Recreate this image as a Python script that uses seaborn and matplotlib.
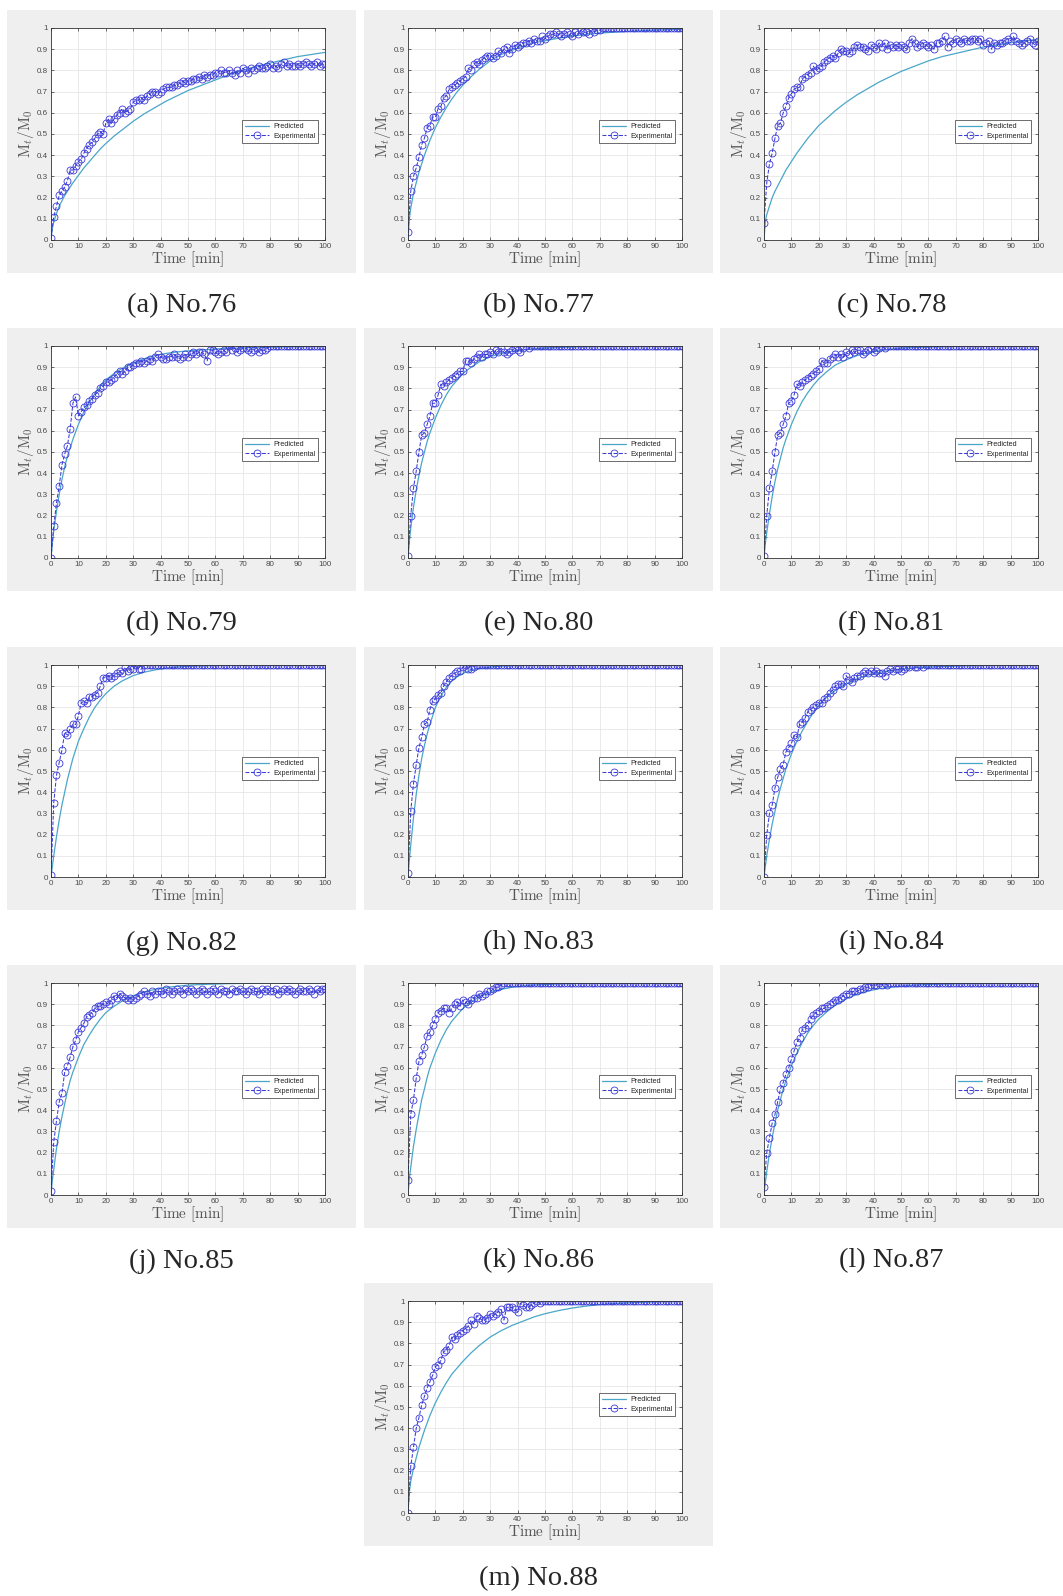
import numpy as np
import pandas as pd
import matplotlib
matplotlib.use('Agg')
import matplotlib.pyplot as plt
from matplotlib.patches import Rectangle
import seaborn as sns

# Rótulos dos painéis
captions = ['(a) No.76', '(b) No.77', '(c) No.78', '(d) No.79', '(e) No.80', '(f) No.81',
            '(g) No.82', '(h) No.83', '(i) No.84', '(j) No.85', '(k) No.86', '(l) No.87',
            '(m) No.88']

x_ticks = [0, 10, 20, 30, 40, 50, 60, 70, 80, 90, 100]
y_ticks = [0, 0.1, 0.2, 0.3, 0.4, 0.5, 0.6, 0.7, 0.8, 0.9, 1.0]
y_tick_labels = ['0', '0.1', '0.2', '0.3', '0.4', '0.5', '0.6', '0.7', '0.8', '0.9', '1']

# Curva prevista (tempo em min)
pred_time = [0, 0.5, 1, 2, 3, 4, 5, 6, 7, 8, 10, 12, 14, 16, 18, 20, 23, 26, 30, 34, 38,
             42, 46, 50, 55, 60, 65, 70, 75, 80, 85, 90, 95, 100]
pred_76 = [0, 0.055, 0.085, 0.125, 0.16, 0.185, 0.21, 0.23, 0.25, 0.27, 0.305, 0.34, 0.37, 0.40,
           0.43, 0.455, 0.49, 0.52, 0.56, 0.595, 0.625, 0.655, 0.68, 0.705, 0.73, 0.755, 0.78,
           0.80, 0.82, 0.835, 0.85, 0.865, 0.875, 0.885]
pred_77 = [0, 0.10, 0.15, 0.22, 0.27, 0.32, 0.36, 0.40, 0.435, 0.47, 0.53, 0.58, 0.625, 0.665,
           0.70, 0.73, 0.77, 0.805, 0.845, 0.875, 0.895, 0.915, 0.93, 0.94, 0.952, 0.962, 0.97,
           0.976, 0.98, 0.984, 0.987, 0.99, 0.992, 0.993]
pred_78 = [0, 0.09, 0.12, 0.16, 0.20, 0.23, 0.255, 0.28, 0.305, 0.33, 0.37, 0.41, 0.445, 0.48,
           0.51, 0.54, 0.575, 0.61, 0.65, 0.685, 0.715, 0.745, 0.77, 0.795, 0.82, 0.845, 0.865,
           0.88, 0.895, 0.91, 0.92, 0.93, 0.94, 0.945]
pred_79 = [0, 0.07, 0.13, 0.22, 0.30, 0.37, 0.43, 0.48, 0.52, 0.56, 0.63, 0.69, 0.735, 0.775,
           0.81, 0.84, 0.87, 0.895, 0.92, 0.94, 0.955, 0.965, 0.972, 0.977, 0.982, 0.986, 0.989,
           0.991, 0.993, 0.995, 0.996, 0.997, 0.998, 0.998]
pred_80 = [0, 0.08, 0.14, 0.24, 0.32, 0.39, 0.45, 0.50, 0.55, 0.59, 0.66, 0.72, 0.77, 0.81,
           0.84, 0.87, 0.90, 0.925, 0.95, 0.965, 0.975, 0.982, 0.987, 0.99, 0.993, 0.996, 0.997,
           0.998, 0.999, 1.0, 1.0, 1.0, 1.0, 1.0]
pred_81 = [0, 0.07, 0.12, 0.21, 0.29, 0.36, 0.42, 0.47, 0.52, 0.56, 0.63, 0.69, 0.74, 0.78,
           0.815, 0.845, 0.88, 0.91, 0.935, 0.955, 0.968, 0.977, 0.984, 0.99, 0.993, 0.995, 0.997,
           0.998, 0.999, 1.0, 1.0, 1.0, 1.0, 1.0]
pred_82 = [0, 0.05, 0.10, 0.19, 0.27, 0.34, 0.40, 0.46, 0.51, 0.56, 0.64, 0.70, 0.755, 0.80,
           0.835, 0.865, 0.90, 0.925, 0.95, 0.966, 0.977, 0.985, 0.99, 0.994, 0.996, 0.998, 0.999,
           1.0, 1.0, 1.0, 1.0, 1.0, 1.0, 1.0]
pred_83 = [0, 0.08, 0.15, 0.28, 0.39, 0.48, 0.56, 0.62, 0.675, 0.72, 0.80, 0.855, 0.895, 0.925,
           0.945, 0.96, 0.975, 0.984, 0.99, 0.995, 0.997, 0.998, 0.999, 1.0, 1.0, 1.0, 1.0,
           1.0, 1.0, 1.0, 1.0, 1.0, 1.0, 1.0]
pred_84 = [0, 0.05, 0.10, 0.18, 0.25, 0.31, 0.37, 0.42, 0.465, 0.51, 0.58, 0.64, 0.69, 0.735,
           0.775, 0.81, 0.85, 0.88, 0.91, 0.935, 0.952, 0.964, 0.973, 0.98, 0.986, 0.99, 0.993,
           0.995, 0.997, 0.998, 0.999, 1.0, 1.0, 1.0]
pred_85 = [0, 0.07, 0.12, 0.22, 0.30, 0.37, 0.43, 0.49, 0.54, 0.58, 0.65, 0.71, 0.755, 0.795,
           0.83, 0.86, 0.89, 0.915, 0.94, 0.958, 0.97, 0.979, 0.985, 0.99, 0.993, 0.995, 0.997,
           0.998, 0.999, 1.0, 1.0, 1.0, 1.0, 1.0]
pred_86 = [0, 0.08, 0.13, 0.23, 0.31, 0.38, 0.45, 0.50, 0.555, 0.60, 0.67, 0.73, 0.78, 0.82,
           0.85, 0.88, 0.91, 0.935, 0.955, 0.97, 0.98, 0.986, 0.99, 0.993, 0.996, 0.998, 0.999,
           1.0, 1.0, 1.0, 1.0, 1.0, 1.0, 1.0]
pred_87 = [0, 0.06, 0.11, 0.20, 0.27, 0.34, 0.40, 0.45, 0.50, 0.54, 0.61, 0.67, 0.72, 0.765,
           0.80, 0.83, 0.865, 0.895, 0.925, 0.947, 0.962, 0.973, 0.98, 0.985, 0.99, 0.993, 0.995,
           0.997, 0.998, 0.999, 1.0, 1.0, 1.0, 1.0]
pred_88 = [0, 0.10, 0.15, 0.21, 0.26, 0.31, 0.35, 0.39, 0.425, 0.46, 0.52, 0.57, 0.615, 0.655,
           0.685, 0.715, 0.755, 0.79, 0.83, 0.86, 0.885, 0.905, 0.925, 0.94, 0.955, 0.967, 0.976,
           0.983, 0.988, 0.991, 0.994, 0.996, 0.997, 0.998]

# Dados experimentais, um ponto por minuto (0 a 100 min)
exp_76 = [0.01,
          0.11, 0.16, 0.21, 0.23, 0.25, 0.28, 0.33, 0.33, 0.35, 0.37,
          0.38, 0.41, 0.43, 0.45, 0.46, 0.48, 0.50, 0.51, 0.50, 0.55,
          0.57, 0.55, 0.57, 0.59, 0.60, 0.62, 0.60, 0.61, 0.62, 0.65,
          0.66, 0.66, 0.67, 0.66, 0.68, 0.69, 0.70, 0.70, 0.69, 0.70,
          0.71, 0.72, 0.72, 0.72, 0.73, 0.73, 0.74, 0.75, 0.74, 0.75,
          0.75, 0.76, 0.76, 0.77, 0.76, 0.78, 0.77, 0.78, 0.78, 0.79,
          0.79, 0.80, 0.79, 0.79, 0.80, 0.79, 0.78, 0.80, 0.79, 0.81,
          0.80, 0.79, 0.81, 0.80, 0.81, 0.82, 0.81, 0.81, 0.82, 0.83,
          0.81, 0.82, 0.81, 0.83, 0.84, 0.82, 0.83, 0.82, 0.82, 0.83,
          0.82, 0.83, 0.84, 0.83, 0.82, 0.83, 0.84, 0.82, 0.83, 0.83]
exp_77 = [0.04,
          0.23, 0.30, 0.34, 0.39, 0.45, 0.48, 0.53, 0.54, 0.58, 0.58,
          0.62, 0.63, 0.67, 0.68, 0.71, 0.72, 0.73, 0.74, 0.75, 0.76,
          0.77, 0.81, 0.80, 0.83, 0.84, 0.83, 0.85, 0.86, 0.87, 0.87,
          0.86, 0.87, 0.89, 0.88, 0.90, 0.91, 0.88, 0.90, 0.92, 0.91,
          0.92, 0.93, 0.93, 0.94, 0.93, 0.95, 0.94, 0.94, 0.96, 0.95,
          0.96, 0.97, 0.97, 0.98, 0.97, 0.96, 0.97, 0.98, 0.97, 0.96,
          0.98, 0.97, 0.99, 0.98, 0.98, 0.97, 1.00, 0.98, 0.99, 0.99,
          1.00, 1.00, 1.00, 1.00, 1.00, 1.00, 1.00, 1.00, 1.00, 1.00,
          1.00, 1.00, 1.00, 1.00, 1.00, 1.00, 1.00, 1.00, 1.00, 1.00,
          1.00, 1.00, 1.00, 1.00, 1.00, 1.00, 1.00, 1.00, 1.00, 1.00]
exp_78 = [0.08,
          0.27, 0.36, 0.41, 0.48, 0.54, 0.55, 0.60, 0.63, 0.67, 0.69,
          0.71, 0.72, 0.72, 0.76, 0.77, 0.78, 0.79, 0.82, 0.80, 0.81,
          0.82, 0.84, 0.85, 0.86, 0.87, 0.86, 0.88, 0.90, 0.89, 0.89,
          0.88, 0.89, 0.91, 0.92, 0.91, 0.91, 0.90, 0.89, 0.92, 0.91,
          0.90, 0.93, 0.91, 0.93, 0.90, 0.92, 0.91, 0.92, 0.91, 0.92,
          0.91, 0.90, 0.93, 0.95, 0.93, 0.91, 0.92, 0.93, 0.92, 0.91,
          0.92, 0.90, 0.93, 0.93, 0.94, 0.96, 0.91, 0.94, 0.93, 0.95,
          0.94, 0.93, 0.95, 0.94, 0.94, 0.95, 0.95, 0.94, 0.95, 0.92,
          0.93, 0.94, 0.90, 0.93, 0.92, 0.93, 0.93, 0.94, 0.95, 0.94,
          0.96, 0.94, 0.93, 0.92, 0.93, 0.94, 0.95, 0.93, 0.92, 0.94]
exp_79 = [0.00,
          0.15, 0.26, 0.34, 0.44, 0.49, 0.53, 0.61, 0.73, 0.76, 0.67,
          0.69, 0.71, 0.72, 0.74, 0.75, 0.77, 0.78, 0.80, 0.81, 0.83,
          0.83, 0.84, 0.85, 0.87, 0.88, 0.87, 0.88, 0.90, 0.90, 0.91,
          0.92, 0.92, 0.93, 0.92, 0.93, 0.94, 0.93, 0.95, 0.96, 0.95,
          0.94, 0.94, 0.95, 0.95, 0.96, 0.95, 0.94, 0.95, 0.96, 0.95,
          0.96, 0.97, 0.96, 0.97, 0.97, 0.96, 0.93, 0.98, 0.98, 0.97,
          0.96, 0.97, 0.98, 0.97, 1.00, 0.98, 0.99, 0.97, 0.98, 0.99,
          0.99, 0.98, 0.97, 0.98, 0.99, 0.97, 0.98, 0.98, 0.99, 1.00,
          1.00, 1.00, 1.00, 1.00, 1.00, 1.00, 1.00, 1.00, 1.00, 1.00,
          1.00, 1.00, 1.00, 1.00, 1.00, 1.00, 1.00, 1.00, 1.00, 1.00]
exp_80 = [0.01,
          0.20, 0.33, 0.41, 0.50, 0.58, 0.59, 0.63, 0.67, 0.73, 0.73,
          0.77, 0.82, 0.81, 0.83, 0.84, 0.85, 0.86, 0.87, 0.88, 0.88,
          0.93, 0.93, 0.92, 0.94, 0.95, 0.96, 0.95, 0.96, 0.96, 0.97,
          0.96, 0.98, 0.97, 0.99, 0.97, 0.96, 0.97, 0.98, 0.99, 0.98,
          0.97, 0.99, 1.00, 0.99, 1.00, 1.00, 1.00, 1.00, 1.00, 1.00,
          1.00, 1.00, 1.00, 1.00, 1.00, 1.00, 1.00, 1.00, 1.00, 1.00,
          1.00, 1.00, 1.00, 1.00, 1.00, 1.00, 1.00, 1.00, 1.00, 1.00,
          1.00, 1.00, 1.00, 1.00, 1.00, 1.00, 1.00, 1.00, 1.00, 1.00,
          1.00, 1.00, 1.00, 1.00, 1.00, 1.00, 1.00, 1.00, 1.00, 1.00,
          1.00, 1.00, 1.00, 1.00, 1.00, 1.00, 1.00, 1.00, 1.00, 1.00]
exp_81 = [0.01,
          0.20, 0.33, 0.41, 0.50, 0.58, 0.59, 0.63, 0.67, 0.73, 0.74,
          0.77, 0.82, 0.81, 0.83, 0.84, 0.85, 0.86, 0.87, 0.88, 0.89,
          0.93, 0.92, 0.92, 0.94, 0.95, 0.96, 0.95, 0.96, 0.95, 0.97,
          0.96, 0.98, 0.97, 0.98, 0.98, 0.96, 0.97, 0.98, 0.99, 0.97,
          0.98, 0.99, 1.00, 0.99, 1.00, 1.00, 1.00, 1.00, 1.00, 1.00,
          1.00, 1.00, 1.00, 1.00, 1.00, 1.00, 1.00, 1.00, 1.00, 1.00,
          1.00, 1.00, 1.00, 1.00, 1.00, 1.00, 1.00, 1.00, 1.00, 1.00,
          1.00, 1.00, 1.00, 1.00, 1.00, 1.00, 1.00, 1.00, 1.00, 1.00,
          1.00, 1.00, 1.00, 1.00, 1.00, 1.00, 1.00, 1.00, 1.00, 1.00,
          1.00, 1.00, 1.00, 1.00, 1.00, 1.00, 1.00, 1.00, 1.00, 1.00]
exp_82 = [0.01,
          0.35, 0.48, 0.54, 0.60, 0.68, 0.67, 0.70, 0.72, 0.72, 0.76,
          0.82, 0.83, 0.82, 0.85, 0.85, 0.86, 0.87, 0.90, 0.94, 0.94,
          0.95, 0.94, 0.95, 0.96, 0.97, 0.96, 0.99, 0.97, 0.98, 0.98,
          1.00, 0.98, 0.98, 1.00, 1.00, 1.00, 1.00, 1.00, 1.00, 1.00,
          1.00, 1.00, 1.00, 1.00, 1.00, 1.00, 1.00, 1.00, 1.00, 1.00,
          1.00, 1.00, 1.00, 1.00, 1.00, 1.00, 1.00, 1.00, 1.00, 1.00,
          1.00, 1.00, 1.00, 1.00, 1.00, 1.00, 1.00, 1.00, 1.00, 1.00,
          1.00, 1.00, 1.00, 1.00, 1.00, 1.00, 1.00, 1.00, 1.00, 1.00,
          1.00, 1.00, 1.00, 1.00, 1.00, 1.00, 1.00, 1.00, 1.00, 1.00,
          1.00, 1.00, 1.00, 1.00, 1.00, 1.00, 1.00, 1.00, 1.00, 1.00]
exp_83 = [0.02,
          0.31, 0.44, 0.53, 0.61, 0.66, 0.72, 0.73, 0.79, 0.83, 0.84,
          0.86, 0.87, 0.90, 0.92, 0.94, 0.95, 0.96, 0.97, 0.97, 0.99,
          1.00, 0.98, 0.98, 0.99, 1.00, 1.00, 1.00, 1.00, 1.00, 1.00,
          1.00, 1.00, 1.00, 1.00, 1.00, 1.00, 1.00, 1.00, 1.00, 1.00,
          1.00, 1.00, 1.00, 1.00, 1.00, 1.00, 1.00, 1.00, 1.00, 1.00,
          1.00, 1.00, 1.00, 1.00, 1.00, 1.00, 1.00, 1.00, 1.00, 1.00,
          1.00, 1.00, 1.00, 1.00, 1.00, 1.00, 1.00, 1.00, 1.00, 1.00,
          1.00, 1.00, 1.00, 1.00, 1.00, 1.00, 1.00, 1.00, 1.00, 1.00,
          1.00, 1.00, 1.00, 1.00, 1.00, 1.00, 1.00, 1.00, 1.00, 1.00,
          1.00, 1.00, 1.00, 1.00, 1.00, 1.00, 1.00, 1.00, 1.00, 1.00]
exp_84 = [0.00,
          0.20, 0.30, 0.34, 0.42, 0.47, 0.51, 0.53, 0.59, 0.61, 0.63,
          0.67, 0.66, 0.72, 0.73, 0.75, 0.78, 0.79, 0.80, 0.81, 0.82,
          0.82, 0.84, 0.85, 0.87, 0.88, 0.90, 0.91, 0.91, 0.90, 0.95,
          0.93, 0.92, 0.94, 0.95, 0.95, 0.96, 0.97, 0.96, 0.97, 0.96,
          0.97, 0.96, 0.96, 0.95, 0.97, 0.98, 0.97, 0.98, 0.98, 0.97,
          0.98, 0.99, 0.99, 1.00, 0.99, 0.99, 1.00, 0.99, 1.00, 1.00,
          1.00, 1.00, 1.00, 1.00, 1.00, 1.00, 1.00, 1.00, 1.00, 1.00,
          1.00, 1.00, 1.00, 1.00, 1.00, 1.00, 1.00, 1.00, 1.00, 1.00,
          1.00, 1.00, 1.00, 1.00, 1.00, 1.00, 1.00, 1.00, 1.00, 1.00,
          1.00, 1.00, 1.00, 1.00, 1.00, 1.00, 1.00, 1.00, 1.00, 1.00]
exp_85 = [0.02,
          0.25, 0.35, 0.44, 0.48, 0.58, 0.61, 0.65, 0.70, 0.73, 0.77,
          0.79, 0.81, 0.84, 0.85, 0.86, 0.88, 0.89, 0.89, 0.90, 0.91,
          0.90, 0.92, 0.94, 0.93, 0.95, 0.94, 0.93, 0.92, 0.93, 0.92,
          0.93, 0.94, 0.95, 0.96, 0.95, 0.94, 0.96, 0.95, 0.96, 0.96,
          0.95, 0.97, 0.96, 0.95, 0.96, 0.97, 0.96, 0.95, 0.97, 0.96,
          0.97, 0.96, 0.95, 0.96, 0.97, 0.96, 0.95, 0.96, 0.97, 0.96,
          0.95, 0.97, 0.96, 0.96, 0.95, 0.97, 0.96, 0.96, 0.97, 0.96,
          0.95, 0.96, 0.97, 0.96, 0.96, 0.95, 0.97, 0.96, 0.97, 0.96,
          0.96, 0.97, 0.95, 0.96, 0.97, 0.96, 0.97, 0.96, 0.95, 0.96,
          0.97, 0.96, 0.96, 0.97, 0.96, 0.95, 0.97, 0.96, 0.97, 0.97]
exp_86 = [0.07,
          0.38, 0.45, 0.55, 0.63, 0.66, 0.70, 0.75, 0.77, 0.80, 0.83,
          0.86, 0.87, 0.88, 0.88, 0.86, 0.88, 0.90, 0.91, 0.89, 0.92,
          0.91, 0.90, 0.92, 0.93, 0.93, 0.95, 0.94, 0.95, 0.96, 0.96,
          0.97, 0.98, 0.98, 0.99, 1.00, 1.00, 1.00, 1.00, 1.00, 1.00,
          1.00, 1.00, 1.00, 1.00, 1.00, 1.00, 1.00, 1.00, 1.00, 1.00,
          1.00, 1.00, 1.00, 1.00, 1.00, 1.00, 1.00, 1.00, 1.00, 1.00,
          1.00, 1.00, 1.00, 1.00, 1.00, 1.00, 1.00, 1.00, 1.00, 1.00,
          1.00, 1.00, 1.00, 1.00, 1.00, 1.00, 1.00, 1.00, 1.00, 1.00,
          1.00, 1.00, 1.00, 1.00, 1.00, 1.00, 1.00, 1.00, 1.00, 1.00,
          1.00, 1.00, 1.00, 1.00, 1.00, 1.00, 1.00, 1.00, 1.00, 1.00]
exp_87 = [0.04,
          0.20, 0.27, 0.34, 0.38, 0.44, 0.50, 0.53, 0.57, 0.60, 0.64,
          0.68, 0.72, 0.74, 0.78, 0.79, 0.80, 0.83, 0.85, 0.86, 0.87,
          0.88, 0.88, 0.89, 0.90, 0.91, 0.92, 0.92, 0.93, 0.94, 0.95,
          0.95, 0.96, 0.96, 0.96, 0.97, 0.97, 0.98, 0.98, 0.99, 0.99,
          0.99, 1.00, 0.99, 1.00, 0.99, 1.00, 1.00, 1.00, 1.00, 1.00,
          1.00, 1.00, 1.00, 1.00, 1.00, 1.00, 1.00, 1.00, 1.00, 1.00,
          1.00, 1.00, 1.00, 1.00, 1.00, 1.00, 1.00, 1.00, 1.00, 1.00,
          1.00, 1.00, 1.00, 1.00, 1.00, 1.00, 1.00, 1.00, 1.00, 1.00,
          1.00, 1.00, 1.00, 1.00, 1.00, 1.00, 1.00, 1.00, 1.00, 1.00,
          1.00, 1.00, 1.00, 1.00, 1.00, 1.00, 1.00, 1.00, 1.00, 1.00]
exp_88 = [0.00,
          0.22, 0.31, 0.40, 0.45, 0.51, 0.55, 0.59, 0.62, 0.65, 0.69,
          0.70, 0.72, 0.76, 0.77, 0.79, 0.83, 0.82, 0.84, 0.85, 0.86,
          0.87, 0.88, 0.91, 0.89, 0.93, 0.92, 0.91, 0.91, 0.92, 0.94,
          0.93, 0.94, 0.95, 0.96, 0.91, 0.97, 0.97, 0.97, 0.96, 0.95,
          0.99, 0.98, 0.97, 0.97, 0.98, 0.99, 1.00, 0.99, 1.00, 1.00,
          1.00, 1.00, 1.00, 1.00, 1.00, 1.00, 1.00, 1.00, 1.00, 1.00,
          1.00, 1.00, 1.00, 1.00, 1.00, 1.00, 1.00, 1.00, 1.00, 1.00,
          1.00, 1.00, 1.00, 1.00, 1.00, 1.00, 1.00, 1.00, 1.00, 1.00,
          1.00, 1.00, 1.00, 1.00, 1.00, 1.00, 1.00, 1.00, 1.00, 1.00,
          1.00, 1.00, 1.00, 1.00, 1.00, 1.00, 1.00, 1.00, 1.00, 1.00]

preds = [pred_76, pred_77, pred_78, pred_79, pred_80, pred_81, pred_82,
         pred_83, pred_84, pred_85, pred_86, pred_87, pred_88]
exps = [exp_76, exp_77, exp_78, exp_79, exp_80, exp_81, exp_82,
        exp_83, exp_84, exp_85, exp_86, exp_87, exp_88]

# Estilo
sns.set_theme(style='whitegrid')
plt.rcParams['font.family'] = ['Liberation Sans', 'DejaVu Sans']
plt.rcParams['mathtext.fontset'] = 'cm'

W, H = 1063, 1596
fig = plt.figure(figsize=(W / 100, H / 100), dpi=100)
fig.patch.set_facecolor('white')

panel_x = [7, 364, 720]
panel_y = [10, 328, 647, 965, 1283]
PW, PH = 349, 263
posicoes = [(r, c) for r in range(4) for c in range(3)] + [(4, 1)]

cor_pred = '#4aa6c9'
cor_exp = '#3a3ad8'

for i, (r, c) in enumerate(posicoes):
    px, py = panel_x[c], panel_y[r]
    pw = min(PW, W - px)
    # fundo cinza do painel
    fig.add_artist(Rectangle((px / W, 1 - (py + PH) / H), pw / W, PH / H,
                             transform=fig.transFigure, facecolor='#efefef',
                             edgecolor='none', zorder=0))
    ax_l, ax_t, ax_w, ax_h = px + 44, py + 18, 274, 212
    ax = fig.add_axes([ax_l / W, 1 - (ax_t + ax_h) / H, ax_w / W, ax_h / H])
    ax.set_facecolor('white')

    df_pred = pd.DataFrame({'t': pred_time, 'y': preds[i]})
    df_exp = pd.DataFrame({'t': np.arange(len(exps[i])), 'y': exps[i]})

    sns.lineplot(data=df_pred, x='t', y='y', ax=ax, color=cor_pred, linewidth=0.9,
                 estimator=None, errorbar=None, label='Predicted')
    sns.lineplot(data=df_exp, x='t', y='y', ax=ax, color=cor_exp, linewidth=0.75,
                 linestyle='--', marker='o', markersize=5, markerfacecolor='none',
                 markeredgecolor=cor_exp, markeredgewidth=0.6,
                 estimator=None, errorbar=None, label='Experimental')

    ax.set_xlim(0, 100)
    ax.set_ylim(0, 1)
    ax.set_xticks(x_ticks)
    ax.set_xticklabels([str(v) for v in x_ticks])
    ax.set_yticks(y_ticks)
    ax.set_yticklabels(y_tick_labels)
    ax.tick_params(axis='both', which='both', direction='in', length=2, width=0.5,
                   top=True, right=True, bottom=True, left=True,
                   labelsize=5.8, labelcolor='#4a4a4a', color='#333333', pad=2)
    ax.grid(True, color='#e2e2e2', linewidth=0.5)
    for s in ax.spines.values():
        s.set_color('#333333')
        s.set_linewidth(0.6)
    ax.set_xlabel(r'$\mathrm{Time\ [min]}$', fontsize=11, color='#555555', labelpad=0)
    ax.set_ylabel(r'$\mathrm{M}_t/\mathrm{M}_0$', fontsize=11, color='#555555', labelpad=1)

    leg = ax.legend(loc='upper right', bbox_to_anchor=(0.975, 0.565), fontsize=5.2,
                    frameon=True, fancybox=False, framealpha=1, edgecolor='#333333',
                    handlelength=3.4, borderpad=0.4, labelspacing=0.35,
                    handletextpad=0.5, borderaxespad=0)
    leg.get_frame().set_linewidth(0.5)

    # legenda do painel
    fig.text((px + pw / 2) / W, 1 - (py + PH + 33) / H, captions[i],
             ha='center', va='center', fontsize=20.5, family='Liberation Serif')

fig.savefig('out.png', dpi=100)
plt.close(fig)
